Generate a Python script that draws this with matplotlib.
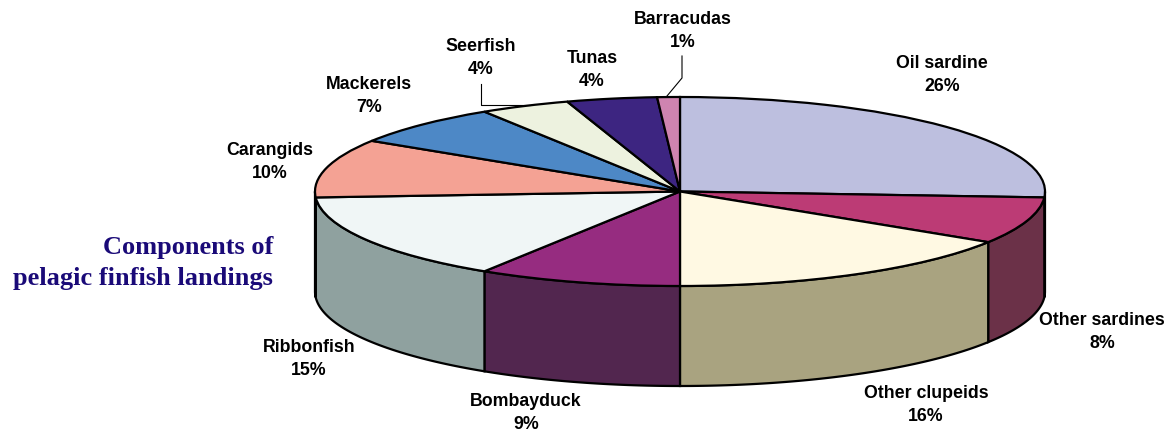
import numpy as np
import matplotlib
matplotlib.use("Agg")
import matplotlib.pyplot as plt

W, H = 1172, 444

# datos
species = ["Oil sardine", "Other sardines", "Other clupeids", "Bombayduck", "Ribbonfish",
           "Carangids", "Mackerels", "Seerfish", "Tunas", "Barracudas"]
shares = [26, 8, 16, 9, 15, 10, 7, 4, 4, 1]

top_colors = ["#BDBFDF", "#BC3B75", "#FFF9E3", "#962C80", "#F0F6F6",
              "#F4A294", "#4D88C6", "#EDF2DF", "#3D2581", "#CF84B0"]
side_colors = ["#5E6080", "#6B3148", "#A9A380", "#52264F", "#8FA19F",
               "#8A5A52", "#2A4D70", "#85887A", "#221548", "#744A63"]

# centro de cada etiqueta en pixeles
label_xy = [(942, 75), (1102, 332), (926, 405), (526, 413), (309, 359),
            (270, 162), (369, 96), (481, 58), (592, 70), (683, 31)]

# geometria de la elipse en pixeles
CX, CY, RX, RY, DEPTH = 680, 191.5, 365, 94.5, 100


def px(x, y):
    return x / W, 1 - y / H


fig = plt.figure(figsize=(W / 100, H / 100), dpi=100)
ax = fig.add_axes([0, 0, 1, 1])

d = DEPTH / RY
edges = 90 - np.cumsum([0] + shares) * 3.6

# paredes del cilindro, solo la mitad frontal se ve
for i in range(len(shares)):
    a1, a0 = edges[i] % 360, edges[i + 1] % 360
    if a1 == 0:
        a1 = 360
    if a0 > a1:
        a1 += 360
    lo, hi = max(a0, 180), min(a1, 360)
    if hi <= lo:
        continue
    t = np.radians(np.linspace(lo, hi, 80))
    xs = np.cos(t)
    ys = np.sin(t)
    ax.fill(np.r_[xs, xs[::-1]], np.r_[ys, ys[::-1] - d],
            facecolor=side_colors[i], edgecolor="black", linewidth=1.6, zorder=1)

ax.pie(shares, colors=top_colors, startangle=90, counterclock=False, radius=1,
       wedgeprops={"edgecolor": "black", "linewidth": 1.6, "zorder": 2})

ax.set_aspect("auto")
ax.set_xlim((0 - CX) / RX, (W - CX) / RX)
ax.set_ylim((CY - H) / RY, CY / RY)
ax.axis("off")

for name, pct, (x, y) in zip(species, shares, label_xy):
    fx, fy = px(x, y)
    fig.text(fx, fy, f"{name}\n{pct}%", ha="center", va="center", ma="center",
             family="Liberation Sans", fontweight="bold", fontsize=12.8, linespacing=1.5,
             color="black")

# lineas guia
for xs, ys in [((481, 481, 530), (84, 105, 105)), ((682, 682, 667), (56, 78, 96))]:
    p = [px(a, b) for a, b in zip(xs, ys)]
    ax.plot([q[0] for q in p], [q[1] for q in p], transform=fig.transFigure,
            color="black", linewidth=0.8, zorder=3, clip_on=False)

fx, fy = px(273, 263)
fig.text(fx, fy, "Components of\npelagic finfish landings", ha="right", va="center", ma="right",
         family="Liberation Serif", fontweight="bold", fontsize=19, linespacing=1.4,
         color="#1A0A78")

fig.savefig("out.png", dpi=100)
